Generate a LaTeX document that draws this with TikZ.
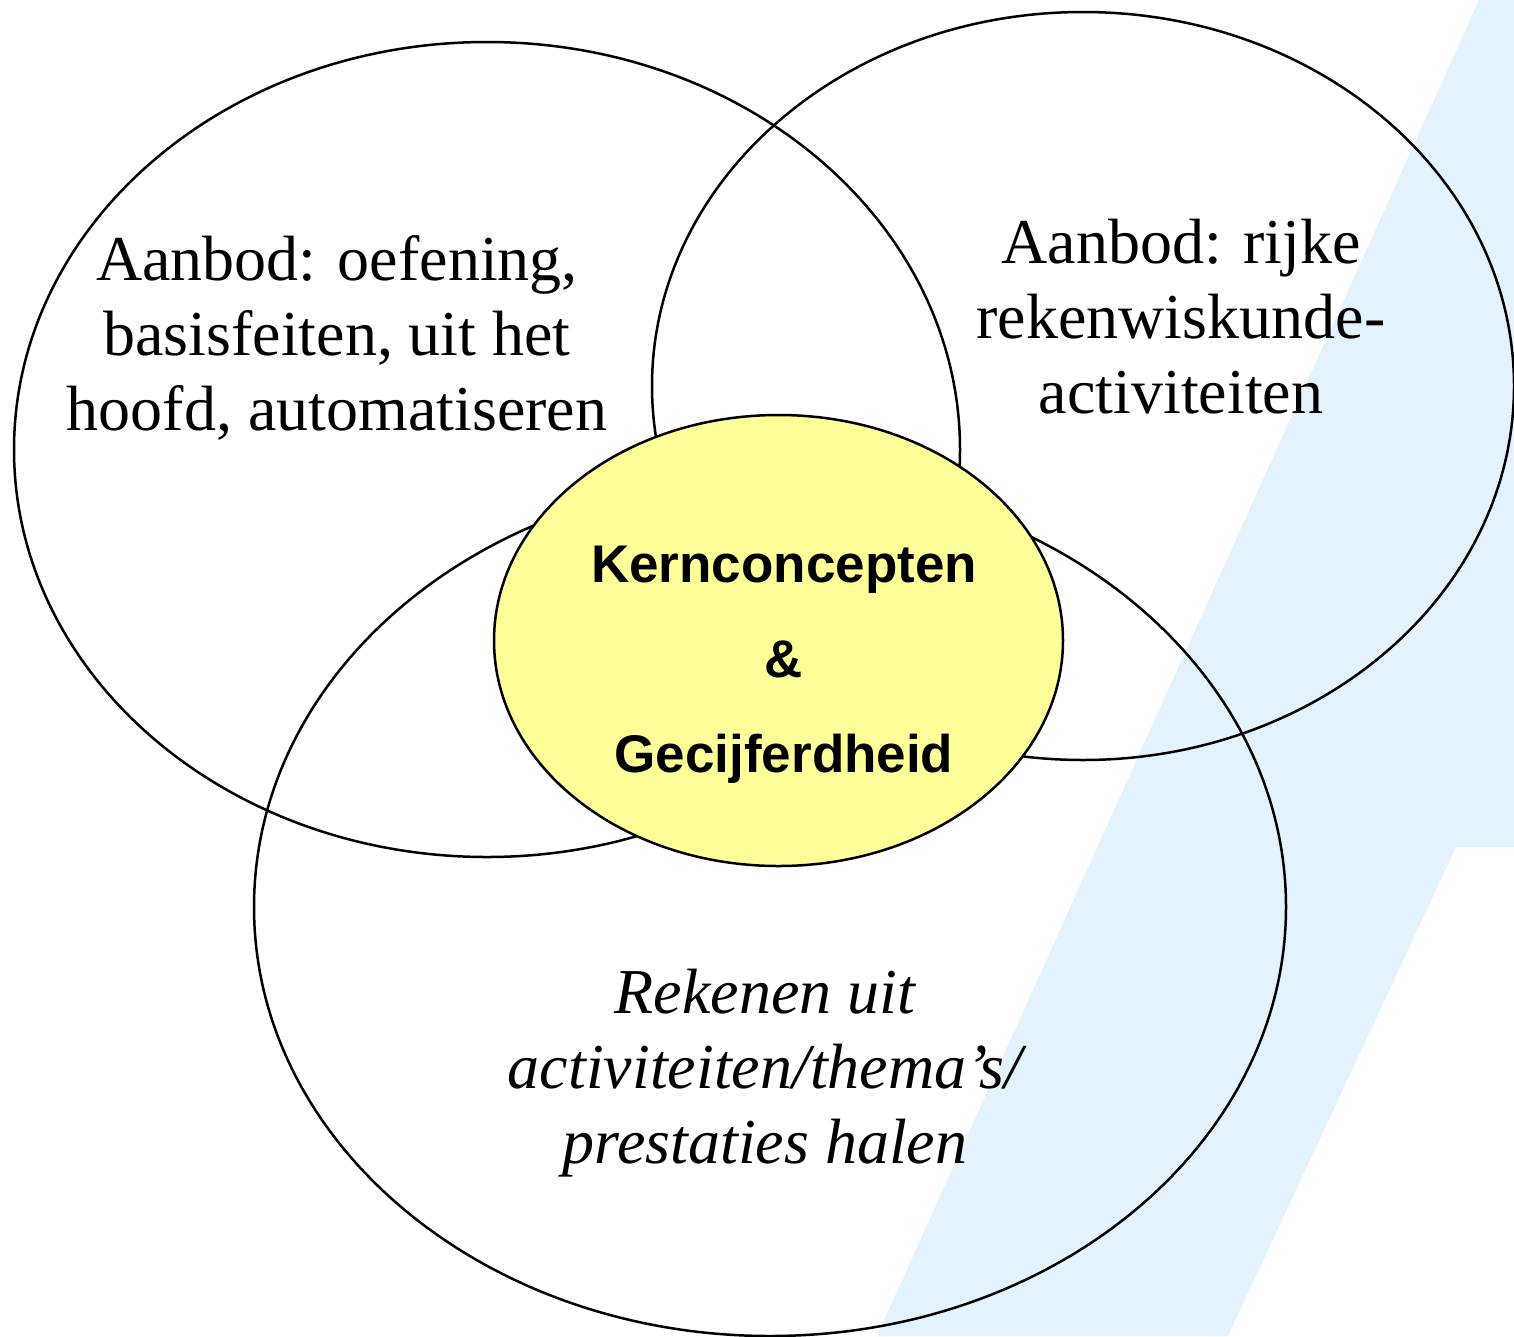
\documentclass[tikz,border=0pt]{standalone}
\usepackage{fontspec}
\setmainfont{Liberation Serif}
\setsansfont{Liberation Sans}
\usetikzlibrary{shapes.geometric}
\definecolor{achtergrond}{RGB}{227,242,252}
\definecolor{kerngeel}{RGB}{255,255,153}
\begin{document}
\begin{tikzpicture}[x=1pt,y=-1pt,
  vlak/.style={ellipse,draw,line width=2.5pt,inner sep=0pt},
  tekst/.style={align=center,anchor=base,font=\fontsize{64}{75}\selectfont}]
\useasboundingbox (0,0) rectangle (1514,1336);
% achtergrond
\fill[achtergrond] (1479,0) -- (1514,0) -- (1514,847) -- (1456,847) -- (1228,1336) -- (877,1336) -- cycle;
% de drie vlakken
\node[vlak,minimum width=946pt,minimum height=815pt] (oefenen) at (487,449.5) {};
\node[vlak,minimum width=862pt,minimum height=748pt] (rijk) at (1083,386) {};
\node[vlak,minimum width=1032pt,minimum height=858pt] (thema) at (770,907) {};
\node[vlak,fill=kerngeel,minimum width=569pt,minimum height=451pt] (kern) at (778.5,640.5) {};
% teksten (base = laatste regel)
\node[tekst] (oefentekst) at (337,430) {Aanbod: oefening,\\basisfeiten, uit het\\hoofd, automatiseren};
\node[tekst] (rijktekst) at (1181,413) {Aanbod: rijke\\rekenwiskunde-\\activiteiten};
\node[tekst,font=\fontsize{64}{75}\selectfont\itshape] (thematekst) at (765,1163) {Rekenen uit\\activiteiten/thema’s/\\prestaties halen};
\node[tekst,font=\fontsize{53}{95}\selectfont\sffamily\bfseries] (kerntekst) at (784,772) {Kernconcepten\\\&\\Gecijferdheid};
\end{tikzpicture}
\end{document}
